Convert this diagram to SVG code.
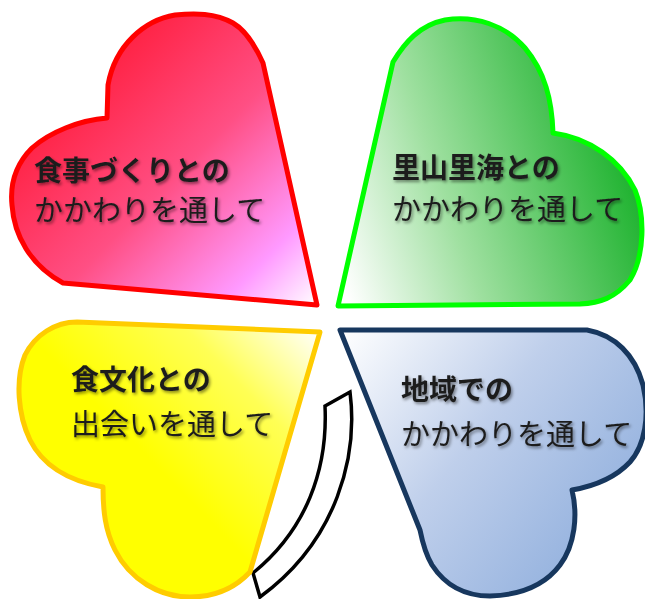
<svg xmlns="http://www.w3.org/2000/svg" width="645" height="599" viewBox="0 0 645 599">
  <defs>
    <linearGradient id="gRed" gradientUnits="userSpaceOnUse" x1="70" y1="60" x2="318" y2="305">
      <stop offset="0" stop-color="#FF1A38"/>
      <stop offset="0.45" stop-color="#FF4F84"/>
      <stop offset="0.8" stop-color="#FF99FF"/>
      <stop offset="1" stop-color="#FFFFFF"/>
    </linearGradient>
    <linearGradient id="gGreen" gradientUnits="userSpaceOnUse" x1="345" y1="290" x2="640" y2="190">
      <stop offset="0" stop-color="#FFFFFF"/>
      <stop offset="0.4" stop-color="#9FE0A0"/>
      <stop offset="1" stop-color="#1DB22E"/>
    </linearGradient>
    <linearGradient id="gYellow" gradientUnits="userSpaceOnUse" x1="322" y1="332" x2="170" y2="480">
      <stop offset="0" stop-color="#FFFFFF"/>
      <stop offset="0.45" stop-color="#FFFF55"/>
      <stop offset="1" stop-color="#FFFF00"/>
    </linearGradient>
    <linearGradient id="gBlue" gradientUnits="userSpaceOnUse" x1="342" y1="330" x2="610" y2="540">
      <stop offset="0" stop-color="#FFFFFF"/>
      <stop offset="0.5" stop-color="#BFCFEB"/>
      <stop offset="1" stop-color="#93B1DE"/>
    </linearGradient>
    <filter id="shadow" x="-10%" y="-30%" width="130%" height="180%">
      <feDropShadow dx="1.5" dy="2" stdDeviation="1.4" flood-color="#000000" flood-opacity="0.45"/>
    </filter>
  </defs>
  <style>
    .heart { stroke-width: 5; stroke-linejoin: round; }
    .label { font-family: "Noto Sans CJK JP", "Noto Sans", sans-serif; fill: #1E1E1E; filter: url(#shadow); }
    .l1 { font-size: 28px; font-weight: bold; }
    .l2 { font-size: 29px; font-weight: normal; }
    .band { fill: #FFFFFF; stroke: #000000; stroke-width: 3.5; stroke-linejoin: miter; }
  </style>

  <!-- curved band between the lower two leaves -->
  <g id="links">
    <path class="band" d="M325,406 L350,392 C358,455 338,540 260,597 L253,573 C306,530 328,470 325,406 Z"/>
  </g>

  <!-- top-left leaf -->
  <g id="node-meals">
    <path class="heart" fill="url(#gRed)" stroke="#FF0000"
          d="M317,305 L263,63 C255,45 245,30 233,23 C215,13 195,13 175,15 C145,20 115,45 108,85 L107,118 C80,120 50,132 32,148 C15,165 10,185 12,205 C14,235 30,265 63,283 Z"/>
    <text class="label l1" x="34" y="181">食事づくりとの</text>
    <text class="label l2" x="34" y="221">かかわりを通して</text>
  </g>

  <!-- top-right leaf -->
  <g id="node-satoyama">
    <path class="heart" fill="url(#gGreen)" stroke="#00FF00"
          d="M338,306 L393,62 C405,42 420,25 445,20 C475,15 505,25 525,48 C545,72 552,100 553,133 C590,138 620,160 635,190 C645,215 645,255 630,280 C615,298 600,303 580,304 Z"/>
    <text class="label l1" x="392" y="178">里山里海との</text>
    <text class="label l2" x="392" y="220">かかわりを通して</text>
  </g>

  <!-- bottom-left leaf -->
  <g id="node-food-culture">
    <path class="heart" fill="url(#gYellow)" stroke="#FFCC00"
          d="M320,332 L250,572 C235,588 215,597 190,597 C160,597 130,580 115,550 C105,530 103,510 103,487 C75,482 45,470 30,440 C18,415 15,380 25,355 C35,335 55,322 77,322 Z"/>
    <text class="label l1" x="71" y="390">食文化との</text>
    <text class="label l2" x="71" y="435">出会いを通して</text>
  </g>

  <!-- bottom-right leaf -->
  <g id="node-community">
    <path class="heart" fill="url(#gBlue)" stroke="#17375E"
          d="M340,330 L587,330 C615,335 635,355 643,385 C650,415 645,445 630,462 C615,478 595,486 572,490 C578,515 575,545 560,565 C545,585 520,595 490,596 C465,596 445,585 432,565 C426,555 422,540 420,530 Z"/>
    <text class="label l1" x="401" y="400">地域での</text>
    <text class="label l2" x="401" y="445">かかわりを通して</text>
  </g>
</svg>
